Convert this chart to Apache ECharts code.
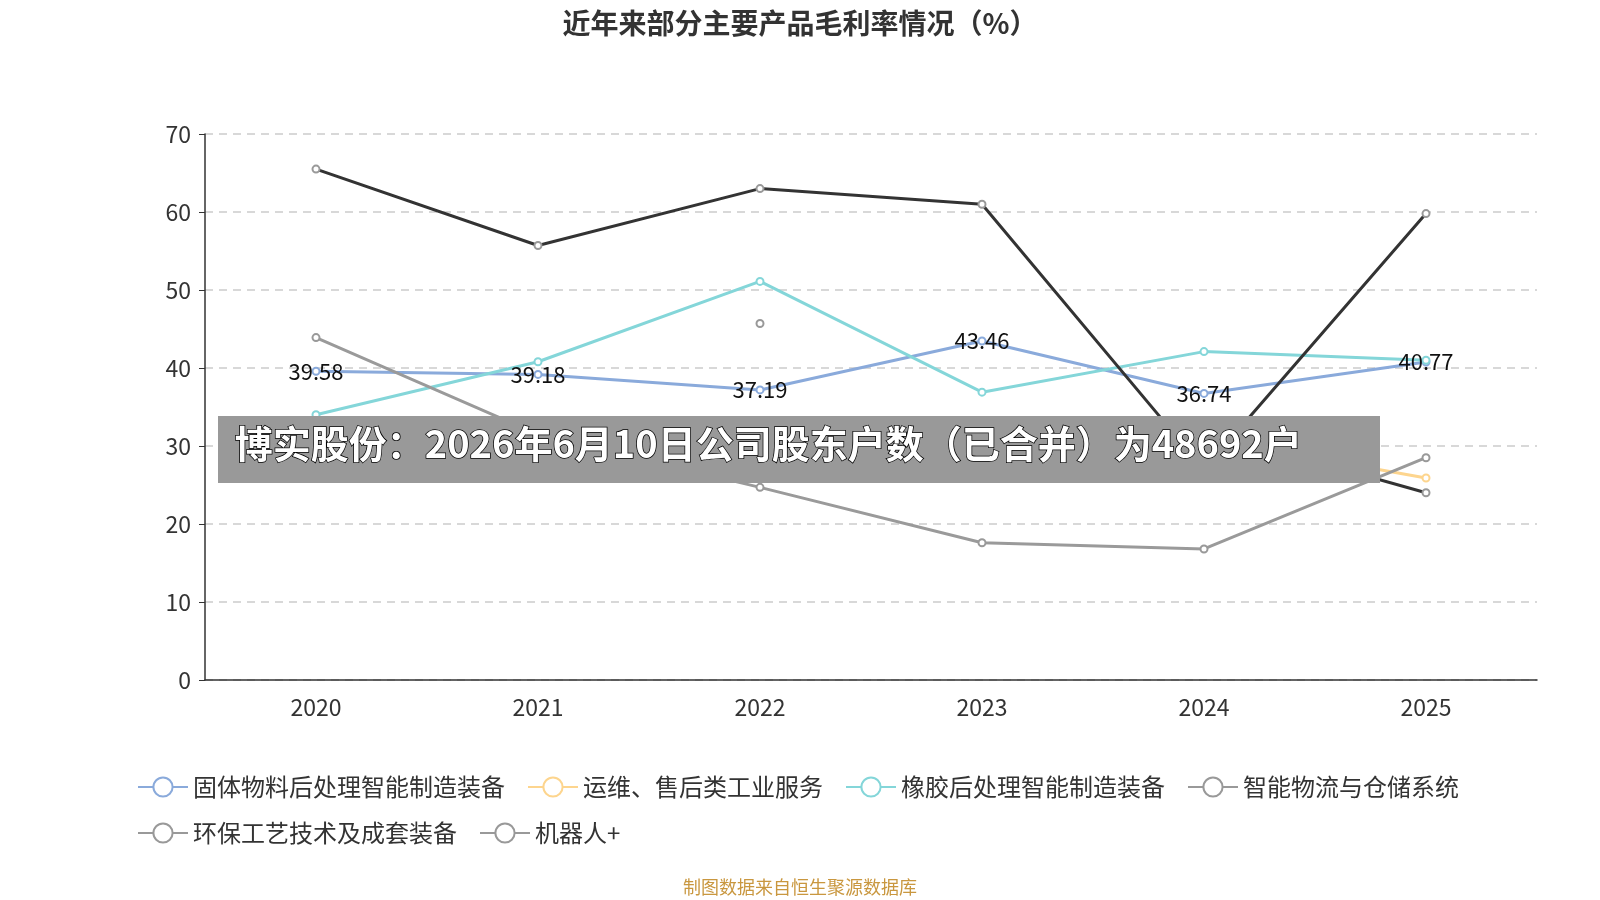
<!DOCTYPE html>
<html>
<head>
<meta charset="utf-8">
<script src="https://cdn.jsdelivr.net/npm/echarts@6/dist/echarts.min.js"></script>
<style>
  html, body { margin: 0; padding: 0; background: #fff; }
  #main { width: 1600px; height: 900px; }
</style>
</head>
<body>
<div id="main"></div>
<script>
const years = ['2020', '2021', '2022', '2023', '2024', '2025']
const solidMaterial = [39.58, 39.18, 37.19, 43.46, 36.74, 40.77]
const maintenance = [null, null, null, null, 31.0, 25.9]
const rubber = [34.0, 40.8, 51.1, 36.9, 42.1, 41.0]
const logistics = [null, null, 45.7, null, 32.0, 24.0]
const environment = [43.9, 31.5, 24.7, 17.6, 16.8, 28.5]
const robot = [65.5, 55.7, 63.0, 61.0, 27.0, 59.8]
const yTicks = { min: 0, max: 70, interval: 10 }

const font = '"Noto Sans CJK SC", "Noto Sans", sans-serif'

function line(name, data, lineColor, itemColor, withLabel) {
  return {
    name: name,
    type: 'line',
    data: data,
    symbol: 'emptyCircle',
    symbolSize: 7,
    connectNulls: false,
    lineStyle: { width: 3, color: lineColor },
    itemStyle: { color: itemColor, borderWidth: 1.5 },
    label: withLabel
      ? { show: true, position: 'inside', color: '#111', fontSize: 22, fontFamily: font }
      : { show: false }
  }
}

const names = ['固体物料后处理智能制造装备', '运维、售后类工业服务', '橡胶后处理智能制造装备',
  '智能物流与仓储系统', '环保工艺技术及成套装备', '机器人+']

const chart = echarts.init(document.getElementById('main'))
chart.setOption({
  animation: false,
  title: {
    text: '近年来部分主要产品毛利率情况（%）',
    left: 'center',
    top: 4,
    textStyle: { fontSize: 28, fontWeight: 'bold', color: '#333', fontFamily: font }
  },
  legend: {
    bottom: 50,
    left: 132,
    width: 1380,
    itemWidth: 50,
    itemHeight: 24,
    itemGap: 22,
    textStyle: { fontSize: 24, color: '#333', fontFamily: font },
    data: names.map((n, i) => i >= 3
      ? { name: n, itemStyle: { color: '#999' }, lineStyle: { color: '#999' } }
      : { name: n })
  },
  grid: { left: 205, right: 63, top: 134, bottom: 220 },
  xAxis: {
    type: 'category',
    data: years,
    axisLine: { lineStyle: { color: '#333', width: 1.5 } },
    axisTick: { lineStyle: { color: '#333' }, length: 6 },
    axisLabel: { fontSize: 23, color: '#333', margin: 16, fontFamily: font }
  },
  yAxis: {
    type: 'value',
    min: yTicks.min,
    max: yTicks.max,
    interval: yTicks.interval,
    axisLine: { show: true, lineStyle: { color: '#333', width: 1.5 } },
    axisTick: { show: true, lineStyle: { color: '#333' }, length: 6 },
    axisLabel: { fontSize: 23, color: '#333', margin: 14, fontFamily: font },
    splitLine: { lineStyle: { type: [8, 6], color: '#ccc', width: 1.5 } }
  },
  series: [
    line(names[0], solidMaterial, '#8aaadb', '#8aaadb', true),
    line(names[1], maintenance, '#fdd58e', '#fdd58e', false),
    line(names[2], rubber, '#84d6d9', '#84d6d9', false),
    line(names[3], logistics, '#333333', '#999999', false),
    line(names[4], environment, '#9a9a9a', '#999999', false),
    line(names[5], robot, '#333333', '#999999', false)
  ],
  graphic: [
    {
      type: 'rect',
      left: 218, top: 416,
      shape: { width: 1162, height: 67 },
      style: { fill: '#999999' },
      z: 100
    },
    {
      type: 'text',
      left: 234, top: 424,
      style: {
        text: '博实股份：2026年6月10日公司股东户数（已合并）为48692户',
        fill: '#fff', stroke: '#000', lineWidth: 1.5,
        font: 'bold 38px ' + font
      },
      z: 101
    },
    {
      type: 'text',
      left: 'center', top: 878,
      style: { text: '制图数据来自恒生聚源数据库', fill: '#c9973f', font: '18px ' + font }
    }
  ]
})
</script>
</body>
</html>
